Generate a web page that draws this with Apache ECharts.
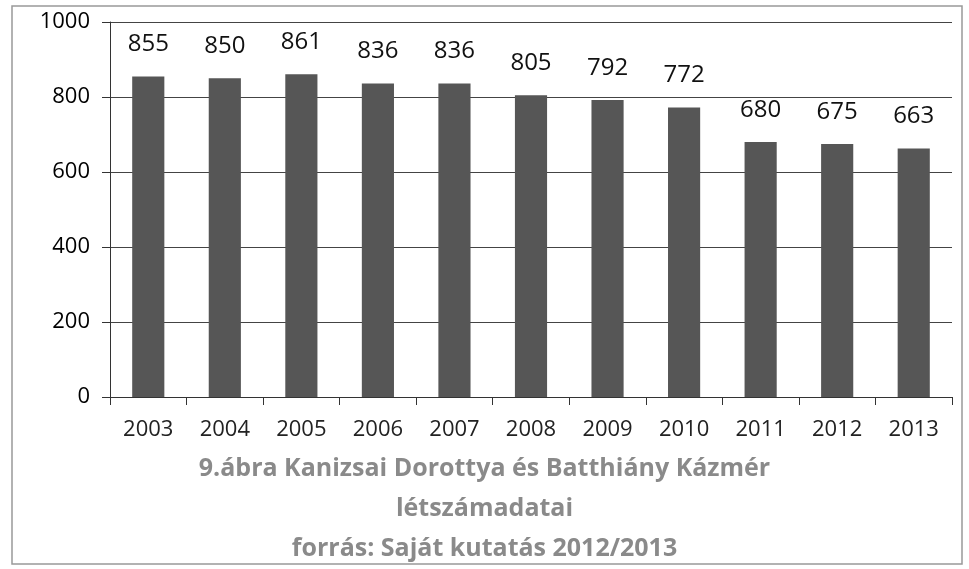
<!DOCTYPE html>
<html>
<head>
<meta charset="utf-8">
<title>9.ábra</title>
<script src="https://cdn.jsdelivr.net/npm/echarts@6/dist/echarts.min.js"></script>
<style>
html, body { margin: 0; padding: 0; background: #fff; }
#chart { width: 969px; height: 569px; }
</style>
</head>
<body>
<div id="chart"></div>
<script>
// évek és létszámok
var years = ['2003', '2004', '2005', '2006', '2007', '2008', '2009', '2010', '2011', '2012', '2013'];
var letszam = [855, 850, 861, 836, 836, 805, 792, 772, 680, 675, 663];
var titleLines = ['9.ábra Kanizsai Dorottya és Batthiány Kázmér', 'létszámadatai', 'forrás: Saját kutatás 2012/2013'];

var myChart = echarts.init(document.getElementById('chart'));

var option = {
    animation: false,
    textStyle: { fontFamily: 'Open Sans' },
    title: {
        text: titleLines.join('\n'),
        left: 'center',
        top: 444,
        textStyle: {
            fontFamily: 'Open Sans',
            fontSize: 25,
            fontWeight: 'bold',
            color: '#8a8a8a',
            lineHeight: 40
        }
    },
    graphic: [{
        type: 'rect',
        shape: { x: 12, y: 6, width: 950, height: 558 },
        style: { fill: 'none', stroke: '#999', lineWidth: 1.5 },
        silent: true
    }],
    grid: { left: 110, right: 17, top: 22, bottom: 172 },
    xAxis: {
        type: 'category',
        data: years,
        axisLine: { lineStyle: { color: '#333', width: 1 } },
        axisTick: { show: true, alignWithLabel: false, length: 8, lineStyle: { color: '#333' } },
        axisLabel: { fontSize: 22, color: '#222', margin: 22 }
    },
    yAxis: {
        type: 'value',
        min: 0,
        max: 1000,
        interval: 200,
        axisLine: { show: true, lineStyle: { color: '#333' } },
        axisTick: { show: true, length: 8, lineStyle: { color: '#333' } },
        axisLabel: {
            fontSize: 22,
            color: '#000',
            margin: 20,
            formatter: function (v) { return String(v); }
        },
        splitLine: { lineStyle: { color: '#444', width: 1 } }
    },
    series: [{
        type: 'bar',
        data: letszam,
        barWidth: '42%',
        itemStyle: { color: '#565656' },
        label: {
            show: true,
            position: 'top',
            distance: 20,
            fontSize: 24,
            color: '#111'
        }
    }]
};

myChart.setOption(option);

window.onresize = function () {
    setTimeout(function () {
        myChart.resize();
    }, 50);
};
</script>
</body>
</html>
